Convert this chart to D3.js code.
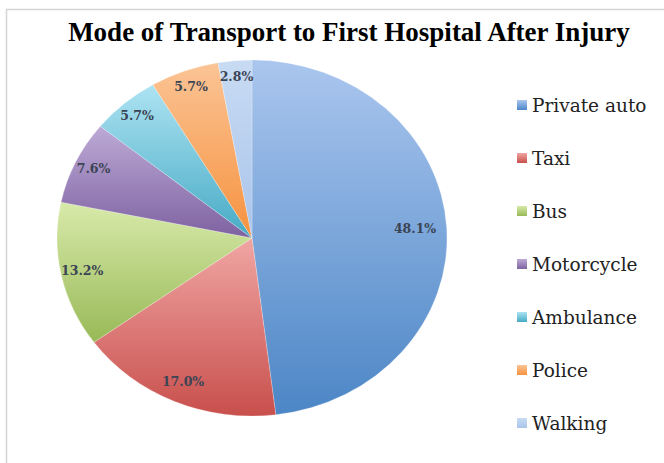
<!DOCTYPE html>
<html>
<head>
<meta charset="utf-8">
<script src="https://cdn.jsdelivr.net/npm/d3@7"></script>
<style>
  body { margin: 0; background: #fff; }
  svg { display: block; }
</style>
</head>
<body>
<svg class="canvas" width="664" height="463"></svg>
<script>
// chart data
const categories = ["Private auto", "Taxi", "Bus", "Motorcycle", "Ambulance", "Police", "Walking"];
const shares = [48.1, 17.0, 13.2, 7.6, 5.7, 5.7, 2.8];
const labels = ["48.1%", "17.0%", "13.2%", "7.6%", "5.7%", "5.7%", "2.8%"];
const topColors = ["#aac6ee", "#f0a6a4", "#d8eaaa", "#bdaad6", "#ade3f2", "#fbc495", "#c8dbf3"];
const bottomColors = ["#4c86c6", "#c84f4c", "#98b957", "#7e62a1", "#46aac5", "#f6923f", "#a9c4ea"];

const svg = d3.select(".canvas");
const width = 664;
const height = 463;

// frame
svg.append("path")
  .attr("d", `M${width},9.5 H6.5 V${height}`)
  .attr("fill", "none")
  .attr("stroke", "#d4d4d4")
  .attr("stroke-width", 1.5);

// title
svg.append("text")
  .attr("x", 349)
  .attr("y", 41)
  .attr("text-anchor", "middle")
  .style("font-family", "'Liberation Serif', serif")
  .style("font-weight", "bold")
  .style("font-size", "27px")
  .text("Mode of Transport to First Hospital After Injury");

// gradients, light at top and darker at bottom
const defs = svg.append("defs");
categories.forEach((c, i) => {
  const g = defs.append("linearGradient")
    .attr("id", "grad" + i)
    .attr("x1", 0).attr("y1", 0)
    .attr("x2", 0).attr("y2", 1);
  g.append("stop").attr("offset", "0%").attr("stop-color", topColors[i]);
  g.append("stop").attr("offset", "100%").attr("stop-color", bottomColors[i]);
});

// pie is a bit wider than tall in the picture
const cx = 252;
const cy = 238;
const ry = 178;
const rx = 195;
const sx = rx / ry;

const pie = d3.pie().sort(null).value((d) => d);
const arcs = pie(shares);
const arc = d3.arc().innerRadius(0).outerRadius(ry);

// small slices get their label a little further out
const labelPos = (d) => {
  const frac = (d.endAngle - d.startAngle) / (2 * Math.PI);
  const r = ry * (0.91 - 0.15 * frac);
  const c = d3.arc().innerRadius(r).outerRadius(r).centroid(d);
  return [cx + c[0] * sx, cy + c[1]];
};

const pieGroup = svg.append("g")
  .attr("transform", `translate(${cx},${cy}) scale(${sx},1)`);

pieGroup.selectAll("path")
  .data(arcs)
  .enter()
  .append("path")
  .attr("d", arc)
  .attr("fill", (d, i) => `url(#grad${i})`)
  .attr("stroke", "#ffffff")
  .attr("stroke-opacity", 0.4)
  .attr("stroke-width", 0.6)
  .attr("vector-effect", "non-scaling-stroke");

// data labels
svg.selectAll(".slice-label")
  .data(arcs)
  .enter()
  .append("text")
  .attr("class", "slice-label")
  .attr("x", (d) => labelPos(d)[0])
  .attr("y", (d) => labelPos(d)[1])
  .attr("dy", "0.3em")
  .attr("text-anchor", "middle")
  .style("font-family", "'DejaVu Serif', serif")
  .style("font-weight", "bold")
  .style("font-size", "12.5px")
  .style("fill", "#3b4454")
  .text((d, i) => labels[i]);

// legend
const legendY = d3.scalePoint()
  .domain(categories)
  .range([106, 424]);

const legend = svg.selectAll(".legend")
  .data(categories)
  .enter()
  .append("g")
  .attr("class", "legend")
  .attr("transform", (d) => `translate(517, ${legendY(d)})`);

legend.append("rect")
  .attr("x", 0)
  .attr("y", -6)
  .attr("width", 10)
  .attr("height", 10)
  .attr("fill", (d, i) => `url(#grad${i})`);

legend.append("text")
  .attr("x", 15)
  .attr("y", 0)
  .attr("dy", "0.35em")
  .style("font-family", "'DejaVu Serif', serif")
  .style("font-size", "18.5px")
  .style("fill", "#222")
  .text((d) => d);
</script>
</body>
</html>
